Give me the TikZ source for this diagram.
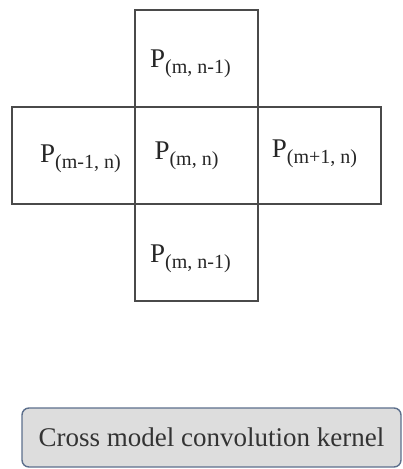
\documentclass[tikz,border=0pt]{standalone}
\usepackage{fontspec}
\setmainfont{Liberation Serif}
\usetikzlibrary{positioning}
\definecolor{gridline}{HTML}{4A4A4A}
\definecolor{kernelline}{HTML}{5C6F8C}
\definecolor{kernelfill}{HTML}{DDDDDD}
\newcommand{\Psub}[1]{\fontsize{27}{32}\selectfont P\raisebox{-6pt}{\fontsize{20}{24}\selectfont #1}}

\begin{document}
\begin{tikzpicture}[x=1pt, y=1pt,
    cell/.style={draw=gridline, line width=1.6pt, minimum width=123pt, minimum height=97pt, inner sep=0pt, outer sep=0pt},
    lbl/.style={inner sep=0pt, text=black!85},
    kernelbox/.style={draw=kernelline, fill=kernelfill, line width=1.4pt, rounded corners=7pt, minimum width=379pt, minimum height=59pt, inner sep=0pt, text=black!80}]
    \useasboundingbox (0,0) rectangle (403,-469);
    % cross of cells
    \node[cell] (mid) at (196.5,-155.5) {};
    \node[cell, above=0pt of mid] (top) {};
    \node[cell, below=0pt of mid] (bot) {};
    \node[cell, left=0pt of mid] (lft) {};
    \node[cell, right=0pt of mid] (rgt) {};
    % labels
    \node[lbl] (ptop) at ([shift={(-6,-5)}]top.center) {\Psub{(m, n-1)}};
    \node[lbl] (pmid) at ([shift={(-10,0)}]mid.center) {\Psub{(m, n)}};
    \node[lbl] (plft) at ([shift={(7,-3)}]lft.center) {\Psub{(m-1, n)}};
    \node[lbl] (prgt) at ([shift={(-5,2)}]rgt.center) {\Psub{(m+1, n)}};
    \node[lbl] (pbot) at ([shift={(-6,-6)}]bot.center) {\Psub{(m, n-1)}};
    % caption box
    \node[kernelbox] (kernel) at (211.5,-437.5) {\fontsize{27}{32}\selectfont Cross model convolution kernel};
\end{tikzpicture}
\end{document}
